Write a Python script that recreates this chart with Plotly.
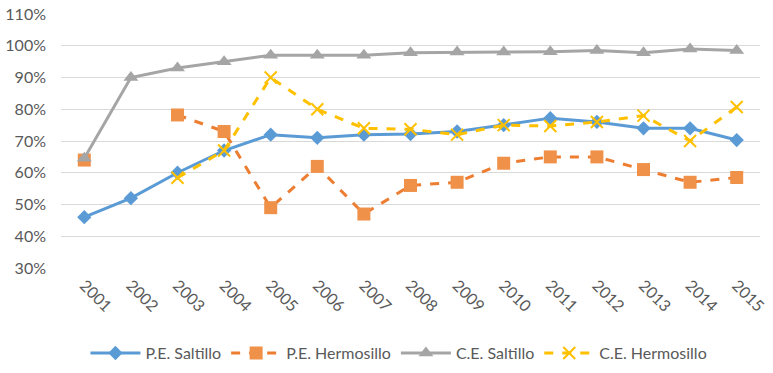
import plotly.graph_objects as go

years = [str(y) for y in range(2001, 2016)]
pe_saltillo = [0.46, 0.52, 0.60, 0.67, 0.72, 0.71, 0.72, 0.722, 0.73, 0.75, 0.772, 0.76, 0.74, 0.74, 0.703]
pe_hermosillo = [0.64, None, 0.782, 0.73, 0.49, 0.62, 0.47, 0.56, 0.57, 0.63, 0.65, 0.65, 0.61, 0.57, 0.585]
ce_saltillo = [0.646, 0.90, 0.93, 0.95, 0.97, 0.97, 0.97, 0.978, 0.98, 0.98, 0.981, 0.985, 0.978, 0.99, 0.985]
ce_hermosillo = [None, None, 0.584, 0.67, 0.90, 0.80, 0.74, 0.737, 0.72, 0.75, 0.747, 0.76, 0.78, 0.70, 0.807]

fig = go.Figure()
fig.add_trace(go.Scatter(x=years, y=pe_saltillo, name="P.E. Saltillo", mode="lines+markers",
                         line=dict(color="#5B9BD5", width=3),
                         marker=dict(symbol="diamond", size=11, color="#5B9BD5")))
fig.add_trace(go.Scatter(x=years, y=pe_hermosillo, name="P.E. Hermosillo", mode="lines+markers",
                         line=dict(color="#ED7D31", width=3, dash="dash"),
                         marker=dict(symbol="square", size=13, color="#F0914A")))
fig.add_trace(go.Scatter(x=years, y=ce_saltillo, name="C.E. Saltillo", mode="lines+markers",
                         line=dict(color="#A5A5A5", width=3),
                         marker=dict(symbol="triangle-up", size=13, color="#A5A5A5")))
fig.add_trace(go.Scatter(x=years, y=ce_hermosillo, name="C.E. Hermosillo", mode="lines+markers",
                         line=dict(color="#FFC000", width=3, dash="dash"),
                         marker=dict(symbol="x-thin", size=12, color="#FFC000",
                                     line=dict(color="#FFC000", width=2))))

fig.update_layout(
    width=773, height=373,
    margin=dict(l=61, r=13, t=14, b=105, autoexpand=False),
    paper_bgcolor="white", plot_bgcolor="white",
    font=dict(family="Lato, Open Sans, sans-serif", size=16, color="#595959"),
    legend=dict(orientation="h", x=0.4835, xanchor="center",
                y=-0.335, yanchor="middle",
                font=dict(size=16, color="#595959"), itemwidth=50),
    showlegend=True,
)
fig.update_xaxes(type="category", range=[-0.5, 14.5], tickangle=45, showgrid=False,
                 showline=False, ticks="", automargin=False, ticklabelstandoff=4,
                 tickfont=dict(size=16, color="#595959"))
fig.update_yaxes(range=[0.3, 1.1], dtick=0.1, tickformat=".0%", showgrid=True,
                 gridcolor="#D9D9D9", gridwidth=1, zeroline=False, showline=False,
                 automargin=False, ticklabelstandoff=14,
                 tickfont=dict(size=16, color="#595959"))

fig.write_html("out.html", config={"displayModeBar": False},
               post_script="document.body.style.margin='0';")
